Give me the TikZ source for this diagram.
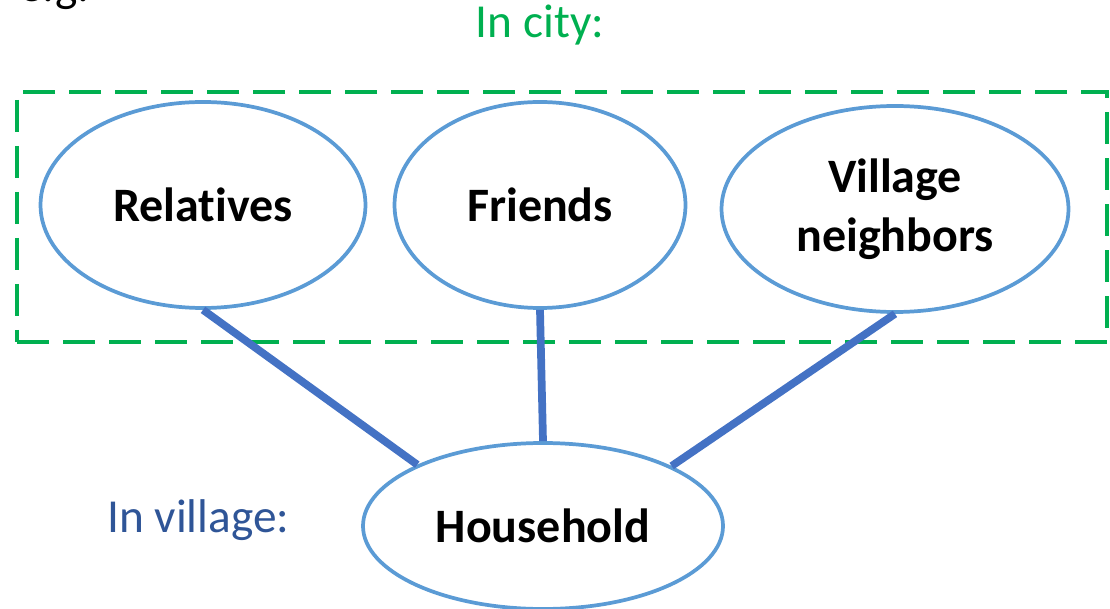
\documentclass[tikz,border=0pt]{standalone}
\usepackage{fontspec}
\setmainfont[Ligatures=CommonOff]{Carlito}
\usetikzlibrary{shapes.geometric}
\definecolor{cgreen}{HTML}{00B050}
\definecolor{cell}{HTML}{5B9BD5}
\definecolor{clink}{HTML}{4472C4}
\definecolor{cvill}{HTML}{2F5597}
\tikzset{
  bub/.style={ellipse, draw=cell, line width=2.8pt, inner sep=0pt, align=center,
    font=\fontsize{36}{44.5}\selectfont\bfseries},
  link/.style={draw=clink, line width=5.8pt},
  lbl/.style={inner sep=0pt, font=\fontsize{35.5}{40}\selectfont}
}
\begin{document}
\begin{tikzpicture}[x=0.75pt,y=-0.75pt]
\useasboundingbox (0,0) rectangle (1110,609);
\clip (0,0) rectangle (1110,609);
\node[lbl, anchor=base west] (eg) at (19,2) {e.g.};
\node[lbl, anchor=base, text=cgreen] (city) at (540,38) {In city:};
\node[draw=cgreen, line width=2.8pt, dash pattern=on 24pt off 10.5pt,
      minimum width=1090*0.75pt, minimum height=250*0.75pt, inner sep=0pt] (box) at (562,217) {};
\node[bub, minimum width=325*0.75pt, minimum height=206*0.75pt] (rel) at (203,205) {Relatives};
\node[bub, minimum width=291*0.75pt, minimum height=206*0.75pt] (fr) at (540,205) {Friends};
\node[bub, minimum width=347*0.75pt, minimum height=206*0.75pt] (vn) at (895,209) {Village\\neighbors};
\node[bub, minimum width=360*0.75pt, minimum height=166*0.75pt] (hh) at (543,526) {Household};
\node[lbl, anchor=base west, text=cvill] (vil) at (107,532) {In village:};
\draw[link] (rel.south) -- (hh.154.5);
\draw[link] (fr.south) -- (hh.north);
\draw[link] (vn.south) -- (hh.25.3);
\end{tikzpicture}
\end{document}
